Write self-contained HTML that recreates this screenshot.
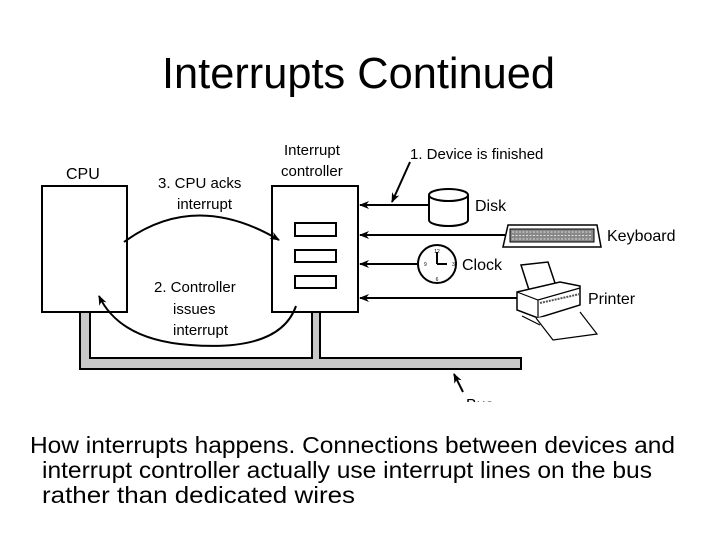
<!DOCTYPE html>
<html><head><meta charset="utf-8"><style>
html,body{margin:0;padding:0;background:#fff;}
svg{display:block;font-family:"Liberation Sans",Arial,sans-serif;}
</style></head><body>
<svg width="720" height="540" viewBox="0 0 720 540" xmlns="http://www.w3.org/2000/svg">
<defs>
<marker id="ah" markerWidth="10" markerHeight="8" refX="9" refY="4" orient="auto" markerUnits="userSpaceOnUse">
<path d="M0,0 L10,4 L0,8 L3,4 Z" fill="#000"/>
</marker>
</defs>
<text x="162" y="88" font-size="44" textLength="393" lengthAdjust="spacingAndGlyphs">Interrupts Continued</text>

<path d="M80,312 V369 H521 V358 H320 V312 H312 V358 H90 V312 Z" fill="#c8c8c8" stroke="#000" stroke-width="2"/>
<rect x="42" y="186" width="85" height="126" fill="#fff" stroke="#000" stroke-width="2"/>
<text x="66" y="179" font-size="16">CPU</text>
<rect x="272" y="186" width="86" height="126" fill="#fff" stroke="#000" stroke-width="2"/>
<rect x="295" y="223" width="41" height="13" fill="#fff" stroke="#000" stroke-width="2"/>
<rect x="295" y="250" width="41" height="12" fill="#fff" stroke="#000" stroke-width="2"/>
<rect x="295" y="276" width="41" height="12" fill="#fff" stroke="#000" stroke-width="2"/>
<text x="284" y="155" font-size="15">Interrupt</text>
<text x="281" y="176" font-size="15">controller</text>

<path d="M124,242 Q195,190 279,240" fill="none" stroke="#000" stroke-width="2" marker-end="url(#ah)"/>
<path d="M296,306 Q280,352 190,345 Q120,340 99,296" fill="none" stroke="#000" stroke-width="2" marker-end="url(#ah)"/>
<text x="158" y="188" font-size="15">3. CPU acks</text>
<text x="177" y="209" font-size="15">interrupt</text>
<text x="154" y="292" font-size="15">2. Controller</text>
<text x="173" y="314" font-size="15">issues</text>
<text x="173" y="335" font-size="15">interrupt</text>

<line x1="428" y1="205" x2="360" y2="205" stroke="#000" stroke-width="2" marker-end="url(#ah)"/>
<line x1="505" y1="235" x2="360" y2="235" stroke="#000" stroke-width="2" marker-end="url(#ah)"/>
<line x1="418" y1="264" x2="360" y2="264" stroke="#000" stroke-width="2" marker-end="url(#ah)"/>
<line x1="518" y1="298" x2="360" y2="298" stroke="#000" stroke-width="2" marker-end="url(#ah)"/>

<text x="410" y="159" font-size="15">1. Device is finished</text>
<line x1="410" y1="162" x2="392" y2="202" stroke="#000" stroke-width="2" marker-end="url(#ah)"/>

<path d="M429,195 V220 A19.5,6 0 0 0 468,220 V195" fill="#fff" stroke="#000" stroke-width="2"/>
<ellipse cx="448.5" cy="195" rx="19.5" ry="6" fill="#fff" stroke="#000" stroke-width="2"/>
<text x="475" y="211" font-size="16">Disk</text>

<path d="M508,225 H597 L601,247 H503 Z" fill="#fff" stroke="#000" stroke-width="1.5"/>
<rect x="510" y="229" width="84" height="13" fill="#888" stroke="#000" stroke-width="1"/>
<path d="M512,232 H592 M512,235.5 H592 M512,239 H592" stroke="#ddd" stroke-width="1" stroke-dasharray="2,1.5"/>
<text x="607" y="241" font-size="16">Keyboard</text>

<circle cx="437" cy="264" r="19" fill="#fff" stroke="#000" stroke-width="2"/>
<line x1="437" y1="264" x2="437" y2="252" stroke="#000" stroke-width="2"/>
<line x1="437" y1="264" x2="447" y2="264" stroke="#000" stroke-width="2"/>
<text x="437" y="253" font-size="5" text-anchor="middle">12</text>
<text x="437" y="281" font-size="5" text-anchor="middle">6</text>
<text x="424" y="266" font-size="5">9</text>
<text x="452" y="266" font-size="5">3</text>
<text x="462" y="270" font-size="16">Clock</text>

<path d="M521,265 L548,262 L556,286 L529,290 Z" fill="#fff" stroke="#000" stroke-width="1.5"/>
<path d="M517,292 L560,282 L580,286 L580,305 L538,318 L517,310 Z" fill="#fff" stroke="#000" stroke-width="1.5"/>
<path d="M517,292 L538,300 L580,288 M538,300 V318" fill="none" stroke="#000" stroke-width="1.2"/>
<path d="M540,303 L580,294" stroke="#555" stroke-width="2" stroke-dasharray="2,1"/>
<path d="M536,318 L553,340 L597,334 L580,312" fill="#fff" stroke="#000" stroke-width="1.2"/>
<path d="M522,316 L540,325" stroke="#000" stroke-width="1.2"/>
<text x="588" y="304" font-size="16">Printer</text>

<line x1="463" y1="392" x2="454" y2="374" stroke="#000" stroke-width="2" marker-end="url(#ah)"/>
<text x="466" y="410" font-size="16">Bus</text>
<rect x="440" y="402" width="80" height="20" fill="#fff"/>

<text x="30" y="453" font-size="23" textLength="645" lengthAdjust="spacingAndGlyphs">How interrupts happens. Connections between devices and</text>
<text x="42" y="478" font-size="23" textLength="610" lengthAdjust="spacingAndGlyphs">interrupt controller actually use interrupt lines on the bus</text>
<text x="42" y="503" font-size="23" textLength="313" lengthAdjust="spacingAndGlyphs">rather than dedicated wires</text>
</svg>
</body></html>
